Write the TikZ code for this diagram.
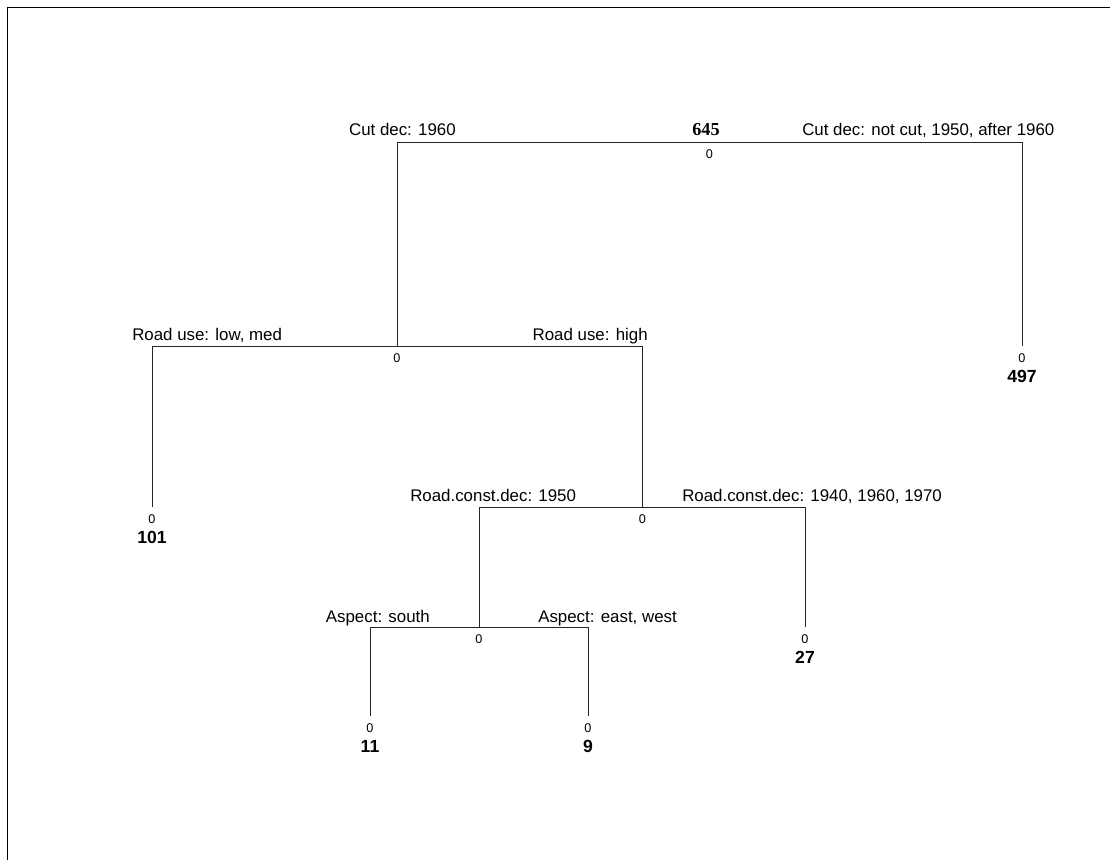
\documentclass[tikz,border=0pt]{standalone}
\usepackage{fontspec}
\setmainfont{Liberation Sans}
\newfontfamily\rootfont{Liberation Serif}
\usetikzlibrary{positioning}
\tikzset{
  edge/.style={draw=black!85, line width=0.7pt},
  splab/.style={font=\fontsize{12}{14}\selectfont, inner sep=0pt},
  zlab/.style={font=\fontsize{9}{10}\selectfont, inner sep=0pt},
  cnt/.style={font=\fontsize{12.5}{14}\selectfont\bfseries, inner sep=0pt},
}

\begin{document}
\begin{tikzpicture}[x=0.025cm, y=-0.025cm]
\useasboundingbox (0,0) rectangle (1110,860);

% Frame
\draw[line width=1.1pt] (1110,7.5) -- (7.5,7.5) -- (7.5,860);

% Split points and leaf ends
\coordinate (root) at (709.5,142);
\coordinate (road) at (397,346);
\coordinate (l497) at (1022,346);
\coordinate (l101) at (152,507);
\coordinate (const) at (642.5,507);
\coordinate (asp) at (479,627);
\coordinate (l27) at (805,627);
\coordinate (l11) at (370,716);
\coordinate (l9) at (588,716);

% Branches
\draw[edge] (root) -| (road);
\draw[edge] (root) -| (l497);
\draw[edge] (road) -| (l101);
\draw[edge] (road) -| (const);
\draw[edge] (const) -| (asp);
\draw[edge] (const) -| (l27);
\draw[edge] (asp) -| (l11);
\draw[edge] (asp) -| (l9);

% Root
\node[font=\rootfont\fontsize{13}{15}\selectfont\bfseries, inner sep=0pt, anchor=base] (n645) at (706,136) {645};
\node[splab, anchor=base east] (cutl) at (456,136) {Cut dec: 1960};
\node[splab, anchor=base west] (cutr) at (802,136) {Cut dec: not cut, 1950, after 1960};
\node[zlab, below=0.18cm of root] (root0) {0};

% Road use
\node[splab, anchor=base west] (usel) at (132,340) {Road use: low, med};
\node[splab, anchor=base east] (user) at (648,340) {Road use: high};
\node[zlab, below=0.18cm of road] (road0) {0};

% Road.const.dec
\node[splab, anchor=base west] (consl) at (410,501) {Road.const.dec: 1950};
\node[splab, anchor=base west] (consr) at (682,501) {Road.const.dec: 1940, 1960, 1970};
\node[zlab, below=0.18cm of const] (const0) {0};

% Aspect
\node[splab, anchor=base east] (aspl) at (430,622) {Aspect: south};
\node[splab, anchor=base west] (aspr) at (538,622) {Aspect: east, west};
\node[zlab, below=0.18cm of asp] (asp0) {0};

% Leaves
\node[zlab, below=0.18cm of l497] (z497) {0};
\node[cnt, below=0.18cm of z497] (c497) {497};
\node[zlab, below=0.18cm of l101] (z101) {0};
\node[cnt, below=0.18cm of z101] (c101) {101};
\node[zlab, below=0.18cm of l27] (z27) {0};
\node[cnt, below=0.18cm of z27] (c27) {27};
\node[zlab, below=0.18cm of l11] (z11) {0};
\node[cnt, below=0.18cm of z11] (c11) {11};
\node[zlab, below=0.18cm of l9] (z9) {0};
\node[cnt, below=0.18cm of z9] (c9) {9};

\end{tikzpicture}
\end{document}
